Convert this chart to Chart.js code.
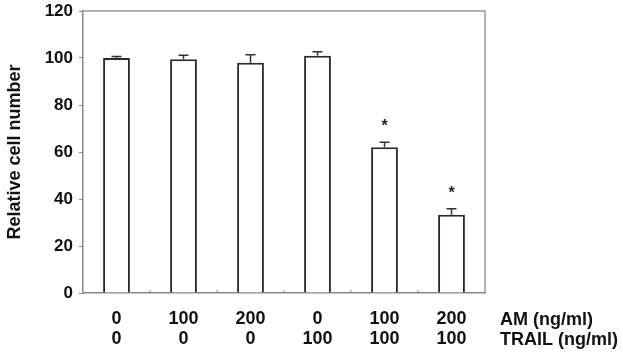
<!DOCTYPE html>
<html>
<head>
<meta charset="utf-8">
<script src="https://cdn.jsdelivr.net/npm/chart.js@4.4.1/dist/chart.umd.min.js"></script>
<style>
html,body{margin:0;padding:0;background:#fff;}
#wrap{width:623px;height:352px;position:relative;}
</style>
</head>
<body>
<div id="wrap"><canvas id="c" width="623" height="352"></canvas></div>
<script>
// Data
const amLabels = ['0', '100', '200', '0', '100', '200'];
const trailLabels = ['0', '0', '0', '100', '100', '100'];
const rowLabels = ['AM (ng/ml)', 'TRAIL (ng/ml)'];
const values = [100, 99.5, 98, 101, 62, 33.3];
const errors = [0.6, 1.7, 3.4, 1.7, 2.1, 2.6];
const significant = [false, false, false, false, true, true];
const yTicks = [0, 20, 40, 60, 80, 100, 120];
const yTitle = 'Relative cell number';

const categories = amLabels.map((a, i) => [a, trailLabels[i]]);

const FONT = '"Liberation Sans", Arial, sans-serif';

const extrasPlugin = {
  id: 'extras',
  afterDatasetsDraw(chart) {
    const ctx = chart.ctx;
    const ys = chart.scales.y;
    const meta = chart.getDatasetMeta(0);
    ctx.save();
    ctx.strokeStyle = '#333';
    ctx.lineWidth = 1.5;
    meta.data.forEach((bar, i) => {
      const x = bar.x;
      const yTop = ys.getPixelForValue(values[i]);
      const yErr = ys.getPixelForValue(values[i] + errors[i]);
      ctx.beginPath();
      ctx.moveTo(x, yTop);
      ctx.lineTo(x, yErr);
      ctx.moveTo(x - 5, yErr);
      ctx.lineTo(x + 5, yErr);
      ctx.stroke();
      if (significant[i]) {
        ctx.fillStyle = '#222';
        ctx.font = 'bold 16px ' + FONT;
        ctx.textAlign = 'center';
        ctx.textBaseline = 'alphabetic';
        ctx.fillText('*', x, yErr - 20 + 9);
      }
    });
    ctx.restore();
  },
  afterDraw(chart) {
    const ctx = chart.ctx;
    const a = chart.chartArea;
    const xs = chart.scales.x;
    ctx.save();
    ctx.strokeStyle = '#999';
    ctx.lineWidth = 1.5;
    ctx.beginPath();
    ctx.moveTo(a.left, a.top);
    ctx.lineTo(a.right, a.top);
    ctx.lineTo(a.right, a.bottom);
    ctx.stroke();
    ctx.strokeStyle = '#888';
    ctx.lineWidth = 1;
    const n = amLabels.length;
    for (let i = 1; i < n; i++) {
      const xp = (xs.getPixelForValue(i - 1) + xs.getPixelForValue(i)) / 2;
      ctx.beginPath();
      ctx.moveTo(xp, a.bottom);
      ctx.lineTo(xp, a.bottom - 3);
      ctx.stroke();
    }
    ctx.fillStyle = '#111';
    ctx.font = 'bold 18px ' + FONT;
    ctx.textAlign = 'left';
    ctx.textBaseline = 'middle';
    ctx.fillText(rowLabels[0], a.right + 15, a.bottom + 27);
    ctx.fillText(rowLabels[1], a.right + 15, a.bottom + 47);
    ctx.restore();
  }
};

new Chart(document.getElementById('c'), {
  type: 'bar',
  data: {
    labels: categories,
    datasets: [{
      data: values,
      backgroundColor: '#ffffff',
      borderColor: '#2a2a2a',
      borderWidth: 2,
      borderSkipped: 'bottom',
      categoryPercentage: 1.0,
      barPercentage: 0.4
    }]
  },
  options: {
    responsive: false,
    animation: false,
    events: [],
    layout: { padding: { left: 0, right: 138, top: 11, bottom: 0 } },
    plugins: { legend: { display: false }, tooltip: { enabled: false } },
    scales: {
      x: {
        grid: { display: false, drawTicks: false },
        border: { display: true, color: '#888', width: 1.5 },
        ticks: {
          color: '#111',
          font: { family: FONT, size: 18, weight: 'bold', lineHeight: 1.1 },
          padding: 16,
          maxRotation: 0,
          autoSkip: false
        },
        afterFit(s) { s.height = 59; }
      },
      y: {
        min: 0, max: 120,
        afterBuildTicks(s) { s.ticks = yTicks.map(v => ({ value: v })); },
        grid: { drawOnChartArea: false, drawTicks: true, tickLength: 4, color: '#888', lineWidth: 1 },
        border: { display: true, color: '#888', width: 1.5 },
        ticks: {
          color: '#111',
          font: { family: FONT, size: 17, weight: 'bold' },
          padding: 6
        },
        title: {
          display: true,
          text: yTitle,
          color: '#111',
          font: { family: FONT, size: 18, weight: 'bold' },
          padding: { top: 4, bottom: 0 }
        },
        afterFit(s) { s.width = 83; s.paddingTop = 0; s.paddingBottom = 0; }
      }
    }
  },
  plugins: [extrasPlugin]
});
</script>
</body>
</html>
